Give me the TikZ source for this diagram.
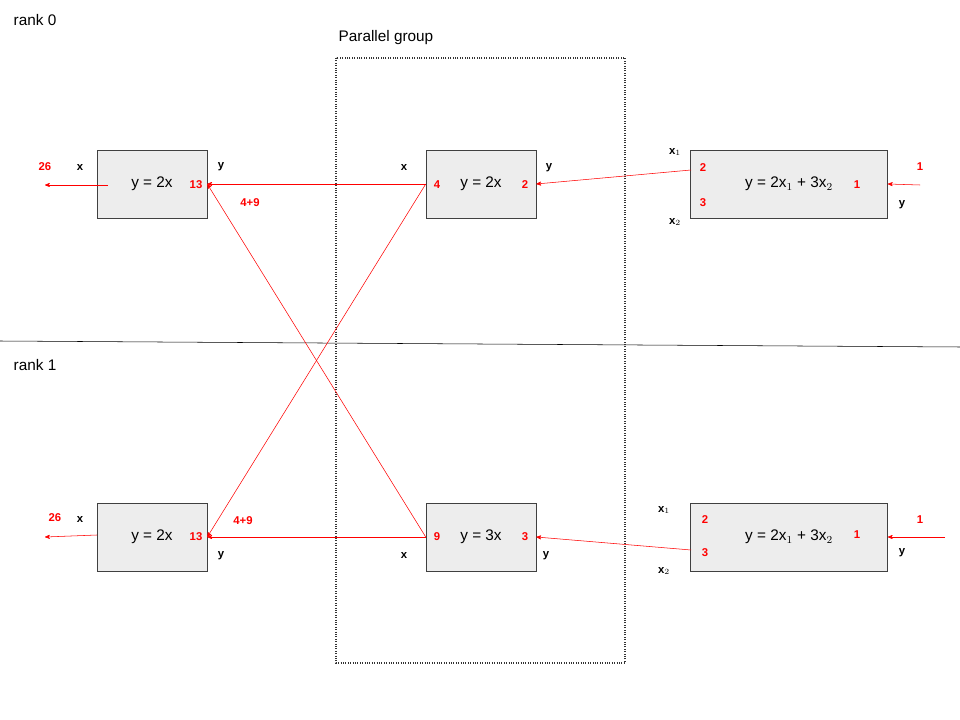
\documentclass[tikz,border=0pt]{standalone}
\usepackage{fontspec}
\setmainfont{Liberation Sans}
\usepackage{tikz}
\usetikzlibrary{arrows}

\begin{document}
\begin{tikzpicture}[x=0.75pt,y=-0.75pt,>=stealth',semithick]

    \tikzstyle{opbox}=[draw=black!75, fill=black!7, thin, minimum width=110*0.75pt, minimum height=68*0.75pt, font=\fontsize{11.5}{13}\selectfont]
    \tikzstyle{flow}=[->, red, thin]
    \tikzstyle{val}=[red, font=\fontsize{8.5}{10}\selectfont\bfseries]
    \tikzstyle{port}=[font=\fontsize{8.5}{10}\selectfont\bfseries]
    \tikzstyle{plain}=[font=\fontsize{11.5}{13}\selectfont]

    \useasboundingbox (0,0) rectangle (960,720);

    % ranks and group
    \node[plain] (rank_a) at (35,20) {rank 0};
    \node[plain] (rank_b) at (35,365) {rank 1};
    \draw[thin] (0,341) -- (960,347);
    \draw[densely dotted, thick, black!80] (336,58) rectangle (625,663);
    \node[plain] (group) at (386,38) {Parallel group};

    % boxes
    \node[opbox] (out_a) at (152,184) {y = 2x};
    \node[opbox] (par_a) at (481,184) {y = 2x};
    \node[opbox, minimum width=197*0.75pt] (in_a) at (789,184) {y = 2x$_1$ + 3x$_2$};
    \node[opbox] (out_b) at (152,537) {y = 2x};
    \node[opbox] (par_b) at (481,537) {y = 3x};
    \node[opbox, minimum width=197*0.75pt] (in_b) at (789,537) {y = 2x$_1$ + 3x$_2$};

    % free ends
    \coordinate (src_a) at (920,185);
    \coordinate (src_b) at (945,537);
    \coordinate (dst_a) at (45,185);
    \coordinate (dst_b) at (45,537);
    \coordinate (start_a) at (108,185);
    \coordinate (start_b) at (97,535);
    \coordinate (c2_a) at (691,170);
    \coordinate (c3_b) at (691,550);

    % flows
    \draw[flow] (src_a) -- (in_a.east);
    \draw[flow] (src_b) -- (in_b.east);
    \draw[flow] (c2_a) -- (par_a.east);
    \draw[flow] (c3_b) -- (par_b.east);
    \draw[flow] (par_a.west) -- (out_a.east);
    \draw[flow] (par_a.west) -- (out_b.east);
    \draw[flow] (par_b.west) -- (out_b.east);
    \draw[flow] (par_b.west) -- (out_a.east);
    \draw[flow] (start_a) -- (dst_a);
    \draw[flow] (start_b) -- (dst_b);

    % rank 0 labels
    \node[val] (v26a) at (45,167) {26};
    \node[port] (xa) at (80,168) {x};
    \node[port] (ya) at (221,167) {y};
    \node[val] (v13a) at (196,185) {13};
    \node[val] (s49a) at (250,203) {4+9};
    \node[port] (pxa) at (404,168) {x};
    \node[val] (v4) at (437,185) {4};
    \node[val] (v2a) at (525,185) {2};
    \node[port] (pya) at (549,168) {y};
    \node[port] (x1a) at (675,152) {x$_1$};
    \node[val] (c2) at (703,168) {2};
    \node[val] (c3a) at (703,203) {3};
    \node[port] (x2a) at (675,222) {x$_2$};
    \node[val] (c1a) at (857,185) {1};
    \node[port] (cya) at (902,205) {y};
    \node[val] (s1a) at (920,167) {1};

    % rank 1 labels
    \node[val] (v26b) at (55,518) {26};
    \node[port] (xb) at (80,520) {x};
    \node[port] (yb) at (221,556) {y};
    \node[val] (v13b) at (196,537) {13};
    \node[val] (s49b) at (243,521) {4+9};
    \node[port] (pxb) at (404,556) {x};
    \node[val] (v9) at (437,537) {9};
    \node[val] (v3b) at (525,537) {3};
    \node[port] (pyb) at (546,556) {y};
    \node[port] (x1b) at (664,510) {x$_1$};
    \node[val] (c2b) at (705,520) {2};
    \node[val] (c3) at (705,553) {3};
    \node[port] (x2b) at (664,571) {x$_2$};
    \node[val] (c1b) at (857,535) {1};
    \node[port] (cyb) at (902,553) {y};
    \node[val] (s1b) at (920,520) {1};

\end{tikzpicture}
\end{document}
